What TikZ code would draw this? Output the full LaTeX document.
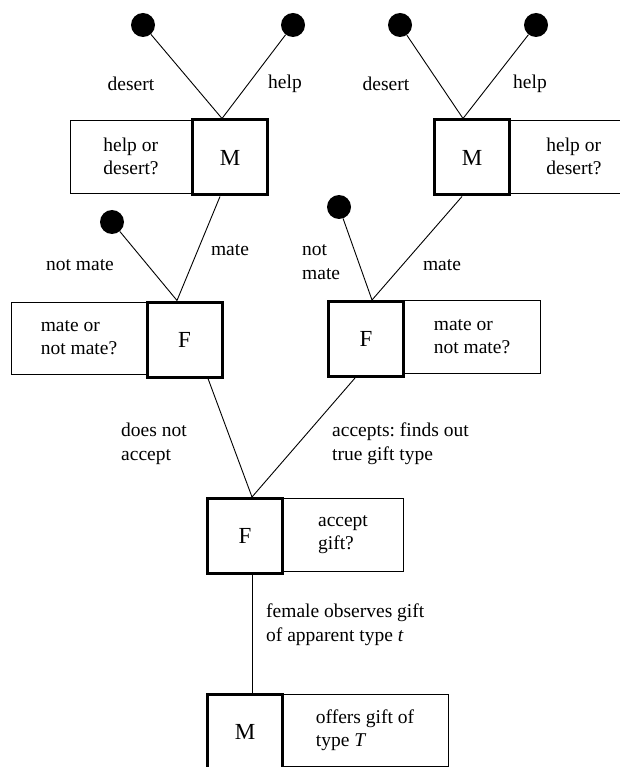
\documentclass[tikz,border=0pt]{standalone}
\usepackage{fontspec}
\setmainfont{Liberation Serif}
\usetikzlibrary{calc}
\frenchspacing
\tikzset{
  dec/.style={draw, line width=3pt, fill=white, minimum size=75pt, inner sep=0pt,
              font=\fontsize{23}{27}\selectfont},
  info/.style={draw, line width=0.9pt, fill=white, inner sep=0pt, align=left,
               font=\fontsize{19.5}{23}\selectfont},
  leaf/.style={circle, fill=black, minimum size=24pt, inner sep=0pt},
  lbl/.style={inner sep=0pt, align=left, font=\fontsize{19.5}{24}\selectfont},
  edge/.style={line width=0.9pt}
}
\begin{document}
\begin{tikzpicture}[x=1pt,y=-1pt]
\useasboundingbox (0,0) rectangle (619,767);
% info boxes
\node[info, minimum width=121pt, minimum height=73pt] (L1) at (131,156.5) {help or\\desert?};
\node[info, minimum width=128pt, minimum height=73pt] (L2) at (574,156.5) {help or\\desert?};
\node[info, minimum width=135pt, minimum height=72pt] (L3) at (79,338) {mate or\\not mate?};
\node[info, minimum width=136pt, minimum height=73pt] (L4) at (472,337) {mate or\\not mate?};
\node[info, minimum width=120pt, minimum height=73pt] (L5) at (343,534.5) {accept\\gift?};
\node[info, minimum width=166pt, minimum height=72pt] (L6) at (365,730) {offers gift of\\type \textit{T}};
% decision boxes
\node[dec] (M1) at (230,157.5) {M};
\node[dec] (M2) at (472,157.5) {M};
\node[dec] (F1) at (184.5,339.5) {F};
\node[dec] (F2) at (366,339) {F};
\node[dec] (F3) at (245,536) {F};
\node[dec] (M3) at (245,732) {M};
% leaves
\node[leaf] (d1) at (143,25) {};
\node[leaf] (d2) at (293,25) {};
\node[leaf] (d3) at (400,25) {};
\node[leaf] (d4) at (536,25) {};
\node[leaf] (d5) at (112,222) {};
\node[leaf] (d6) at (339,207) {};
% connection points
\coordinate (M1t) at ($(M1.north)+(-8,0)$);
\coordinate (M1b) at ($(M1.south)+(-10,0)$);
\coordinate (M2t) at ($(M2.north)+(-9,0)$);
\coordinate (M2b) at ($(M2.south)+(-10,0)$);
\coordinate (F1t) at ($(F1.north)+(-7.5,0)$);
\coordinate (F1b) at ($(F1.south)+(23.5,0)$);
\coordinate (F2t) at ($(F2.north)+(6,0)$);
\coordinate (F2b) at ($(F2.south)+(-11,0)$);
\coordinate (F3t) at ($(F3.north)+(7,0)$);
\coordinate (F3b) at ($(F3.south)+(7,0)$);
\coordinate (M3t) at ($(M3.north)+(7,0)$);
% connectors
\draw[edge] (d1) -- (M1t);
\draw[edge] (d2) -- (M1t);
\draw[edge] (d3) -- (M2t);
\draw[edge] (d4) -- (M2t);
\draw[edge] (M1b) -- (F1t);
\draw[edge] (d5) -- (F1t);
\draw[edge] (M2b) -- (F2t);
\draw[edge] (d6) -- (F2t);
\draw[edge] (F1b) -- (F3t);
\draw[edge] (F2b) -- (F3t);
\draw[edge] (F3b) -- (M3t);
% labels
\node[lbl] (t1) at (131,84) {desert};
\node[lbl] (t2) at (285,84) {help};
\node[lbl] (t3) at (386,84) {desert};
\node[lbl] (t4) at (530,84) {help};
\node[lbl] (t5) at (80,265) {not mate};
\node[lbl] (t6) at (230,250) {mate};
\node[lbl, anchor=west] (t7) at (302,262) {not\\mate};
\node[lbl] (t8) at (442,265) {mate};
\node[lbl, anchor=west] (t9) at (121,444) {does not\\accept};
\node[lbl, anchor=west] (t10) at (332,444) {accepts: finds out\\true gift type};
\node[lbl, anchor=west] (t11) at (266,625) {female observes gift\\of apparent type \textit{t}};
\end{tikzpicture}
\end{document}
